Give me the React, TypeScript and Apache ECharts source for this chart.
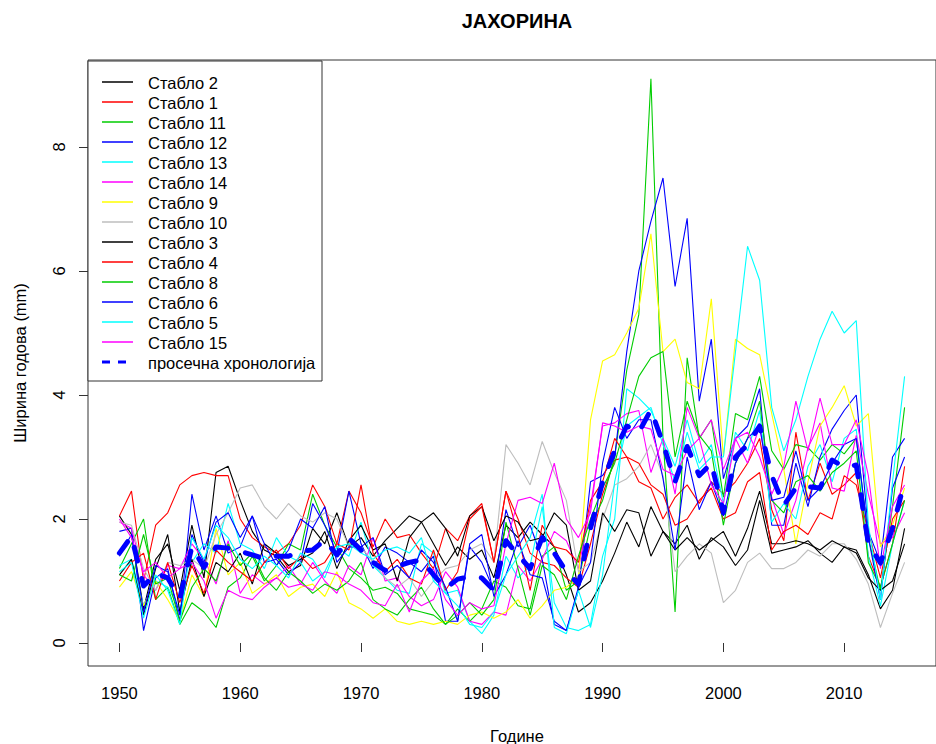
import React, { useEffect, useRef } from "react";
import * as echarts from "echarts";

// ---------- data ----------
const years = [
  1950, 1951, 1952, 1953, 1954, 1955, 1956, 1957, 1958, 1959,
  1960, 1961, 1962, 1963, 1964, 1965, 1966, 1967, 1968, 1969,
  1970, 1971, 1972, 1973, 1974, 1975, 1976, 1977, 1978, 1979,
  1980, 1981, 1982, 1983, 1984, 1985, 1986, 1987, 1988, 1989,
  1990, 1991, 1992, 1993, 1994, 1995, 1996, 1997, 1998, 1999,
  2000, 2001, 2002, 2003, 2004, 2005, 2006, 2007, 2008, 2009,
  2010, 2011, 2012, 2013, 2014, 2015,
];

const xTicks = [1950, 1960, 1970, 1980, 1990, 2000, 2010];
const yTicks = [0, 2, 4, 6, 8];

const stablo2 = [
  2.05, 1.75, 0.55, 1.35, 1.6, 0.85, 1.9, 1.05, 2.75, 2.85,
  2.3, 1.8, 1.5, 1.4, 1.15, 1.25, 1.85, 1.6, 2.1, 1.55,
  1.7, 1.4, 1.65, 1.85, 2.05, 1.95, 1.6, 1.25, 1.55, 1.35,
  1.5, 1.05, 1.9, 1.7, 1.95, 1.75, 1.55, 1.1, 0.5, 0.65,
  1.0, 1.45, 1.95, 1.55, 2.2, 1.8, 1.6, 1.9, 1.35, 1.7,
  1.55, 1.25, 1.5, 2.3, 1.45, 1.5, 1.55, 1.65, 1.45, 1.3,
  1.55, 1.5, 1.1, 0.55, 0.85, 1.85,
];
const stablo1 = [
  2.05, 2.45, 1.0, 1.9, 2.1, 2.55, 2.7, 2.75, 2.7, 2.7,
  2.0, 1.7, 1.55, 1.45, 1.6, 1.9, 2.55, 2.2, 1.6, 2.45,
  2.1, 1.55, 2.0, 1.7, 1.75, 1.45, 1.2, 1.85, 1.65, 2.05,
  2.25, 1.3, 2.45, 2.0, 1.45, 1.3, 1.25, 1.05, 0.9, 1.6,
  2.4, 2.95, 3.0, 2.6, 2.5, 2.0, 2.35, 2.55, 2.25, 2.6,
  2.4, 2.6, 2.9, 3.3, 2.15, 1.65, 3.4, 2.3, 2.9, 2.4,
  2.55, 2.75, 1.4, 0.9, 1.6, 2.85,
];
const stablo11 = [
  1.2, 1.6, 2.0, 0.7, 0.9, 0.3, 0.65, 0.5, 0.25, 0.9,
  1.05, 1.4, 1.0, 1.25, 1.6, 1.5, 2.4, 1.9, 1.55, 1.2,
  1.05, 0.85, 0.9, 0.8, 0.55, 0.5, 0.45, 0.3, 0.55, 0.35,
  0.55, 1.0, 0.9, 0.6, 0.55, 1.4, 1.55, 0.85, 1.0, 1.9,
  2.3, 3.0, 4.4, 5.3, 9.1, 3.3, 0.5, 4.6, 3.3, 3.6,
  2.35, 3.7, 3.6, 4.3, 3.1, 2.8, 3.2, 3.15, 2.95, 3.2,
  3.05, 3.3, 1.7, 0.85, 2.2, 3.8,
];
const stablo12 = [
  1.8, 1.85, 0.2, 1.05, 1.2, 0.35, 2.4, 1.5, 2.05, 1.45,
  1.55, 2.05, 1.3, 1.35, 1.1, 1.3, 2.25, 1.9, 1.45, 2.45,
  1.6, 1.2, 1.55, 1.45, 1.3, 1.15, 1.4, 0.35, 0.35, 1.55,
  1.3, 0.85, 2.15, 1.55, 1.9, 1.35, 0.3, 0.2, 0.85, 2.6,
  2.7, 3.0, 4.7, 6.0, 6.8, 7.5, 5.75, 6.85, 3.9, 4.9,
  2.65, 3.3, 3.5, 4.1, 1.9, 1.9, 2.9, 2.2, 3.0, 3.45,
  3.75, 4.0, 1.8, 1.3, 3.0, 3.3,
];
const stablo13 = [
  1.25, 1.35, 0.6, 1.0, 0.9, 0.55, 1.3, 1.6, 1.45, 2.25,
  1.6, 1.5, 1.2, 1.7, 1.4, 1.3, 1.0, 1.15, 1.55, 1.4,
  1.95, 1.25, 1.05, 0.85, 0.8, 1.6, 1.45, 0.8, 0.85, 0.35,
  0.15, 0.45, 1.4, 1.05, 1.25, 2.2, 0.65, 0.25, 0.2, 0.3,
  1.4, 2.0, 4.1, 3.95, 3.75, 3.3, 2.85, 3.6, 2.9, 3.2,
  2.25, 3.4, 3.1, 3.75, 1.95, 2.25, 2.0, 2.85, 3.2, 2.6,
  3.3, 3.45, 1.4, 0.6, 1.6, 2.3,
];
const stablo14 = [
  1.95, 1.85, 1.1, 0.85, 1.25, 1.2, 1.6, 1.35, 0.95, 1.65,
  0.8, 1.1, 0.95, 1.05, 1.25, 0.95, 1.3, 1.0, 0.8, 1.25,
  1.1, 1.7, 1.0, 1.05, 0.75, 0.6, 0.7, 1.15, 0.9, 0.35,
  0.3, 0.5, 0.45, 1.25, 1.0, 1.35, 1.8, 1.65, 1.2, 2.2,
  3.5, 3.55, 3.7, 3.75, 2.75, 3.3, 2.4, 3.8, 3.3, 3.6,
  2.8, 3.3, 2.9, 3.5, 2.35, 1.75, 2.3, 3.15, 3.55, 2.5,
  2.45, 3.35, 2.4, 1.6, 1.7, 2.1,
];
const stablo9 = [
  0.9, 1.15, 0.6, 1.0, 0.7, 0.35, 1.1, 0.75, 1.85, 1.1,
  1.3, 0.8, 0.95, 1.1, 0.75, 0.9, 0.95, 0.75, 1.15, 0.65,
  0.55, 0.4, 0.55, 0.35, 0.3, 0.35, 0.3, 0.35, 0.3, 0.45,
  0.5, 0.4, 0.5, 0.7, 0.4, 0.6, 0.85, 0.9, 1.05, 3.6,
  4.55, 4.65, 5.0, 5.4, 6.6, 4.7, 4.9, 4.2, 4.1, 5.55,
  3.0, 4.9, 4.75, 4.65, 3.7, 2.8, 1.6, 2.6, 3.5, 3.8,
  4.15, 3.5, 3.7, 1.55, 1.9, 2.5,
];
const stablo10 = [
  1.95, 1.9, 1.2, 0.85, 1.3, 1.25, 1.35, 1.2, 1.75, 2.1,
  2.5, 2.55, 2.2, 2.0, 2.25, 2.05, 1.95, 2.1, 2.0, 1.55,
  1.55, 1.3, 1.05, 0.9, 1.05, 0.75, 1.0, 1.2, 1.25, 1.5,
  1.6, 1.3, 3.2, 2.9, 2.55, 3.25, 2.75, 2.3, 1.15, 1.3,
  2.0, 2.55, 2.65, 2.85, 3.2, 2.7, 1.15, 1.4, 1.6, 1.45,
  0.65, 0.85, 1.3, 1.45, 1.2, 1.2, 1.3, 1.5, 1.4, 1.6,
  1.6, 1.35, 0.95, 0.25, 0.8, 1.3,
];
const stablo3 = [
  1.1, 1.35, 0.45, 1.2, 1.75, 0.5, 1.35, 0.75, 1.3, 1.15,
  1.45, 0.95, 1.6, 1.45, 1.25, 1.35, 1.45, 1.8, 1.2, 1.65,
  1.9, 1.5, 1.6, 1.0, 1.7, 1.95, 2.1, 1.85, 1.4, 2.05,
  2.2, 1.65, 2.05, 1.95, 1.65, 1.7, 2.1, 1.9, 0.85, 1.0,
  2.1, 1.8, 2.15, 2.1, 1.4, 1.8, 1.5, 1.7, 1.5, 1.65,
  1.8, 1.4, 1.85, 2.45, 1.6, 1.6, 1.65, 1.6, 1.5, 1.65,
  1.55, 1.45, 1.05, 0.85, 1.0, 1.6,
];
const stablo4 = [
  1.0, 1.3, 1.45, 0.7, 1.3, 0.65, 1.25, 0.8, 1.5, 1.3,
  1.15, 1.0, 1.3, 1.5, 1.2, 1.4, 1.2, 1.3, 1.6, 1.5,
  2.55, 1.45, 1.15, 1.35, 1.05, 0.95, 1.5, 0.85, 1.15, 2.0,
  2.2, 1.3, 2.45, 1.75, 0.85, 1.9, 1.55, 1.5, 1.3, 2.3,
  2.6, 3.3, 3.0, 2.9, 2.55, 2.4, 1.9, 2.0, 2.3, 2.5,
  2.0, 2.1, 2.6, 2.75, 1.5, 1.8, 1.9, 1.75, 2.1, 2.0,
  2.7, 2.55, 1.8, 1.05, 2.0, 2.3,
];
const stablo8 = [
  1.1, 1.0, 1.75, 0.95, 1.05, 0.35, 0.9, 1.2, 1.0, 1.6,
  1.25, 1.45, 1.05, 0.85, 1.15, 1.0, 0.8, 0.95, 0.85, 1.0,
  1.3, 0.7, 0.55, 0.45, 0.7, 0.9, 0.55, 0.3, 0.45, 0.65,
  0.45, 0.7, 1.95, 1.2, 0.45, 1.25, 1.1, 0.7, 1.4, 2.0,
  2.5, 2.9, 3.6, 4.3, 4.6, 4.7, 3.0, 3.9, 3.35, 3.1,
  1.9, 2.9, 3.3, 3.9, 2.3, 2.1, 2.6, 2.7, 2.45, 2.75,
  2.9, 3.1, 1.3, 0.9, 1.6, 2.3,
];
const stablo6 = [
  1.4, 1.75, 0.5, 1.25, 1.15, 0.45, 1.75, 1.3, 1.95, 2.1,
  1.7, 2.05, 1.6, 1.25, 1.5, 2.0, 1.85, 2.2, 1.3, 1.55,
  1.55, 1.7, 1.1, 1.25, 1.05, 1.5, 1.3, 0.9, 0.35, 1.6,
  1.75, 0.75, 1.1, 1.65, 1.1, 1.05, 0.35, 0.2, 0.9, 1.3,
  2.9, 3.8, 3.3, 3.6, 3.6, 2.65, 1.5, 3.0, 2.15, 2.6,
  2.05, 2.9, 3.3, 3.5, 2.3, 2.35, 3.1, 2.3, 2.5, 2.9,
  3.2, 3.3, 1.7, 0.7, 2.5, 3.0,
];
const stablo5 = [
  1.15, 1.3, 0.4, 1.1, 0.85, 0.3, 1.7, 1.35, 1.9, 1.7,
  1.35, 1.2, 1.4, 1.25, 1.05, 1.45, 1.35, 1.05, 1.55, 1.6,
  1.45, 1.35, 1.5, 1.55, 1.45, 1.7, 1.0, 0.8, 0.6, 0.3,
  0.25, 0.5, 1.1, 1.4, 1.7, 2.4, 0.25, 0.15, 0.85, 0.25,
  1.1, 2.6, 3.5, 3.65, 3.8, 3.2, 2.6, 3.4, 2.8, 3.0,
  3.0, 4.7, 6.4, 5.85, 3.8, 3.1, 3.6, 4.3, 4.9, 5.35,
  5.0, 5.2, 1.9, 0.7, 2.6, 4.3,
];
const stablo15 = [
  2.0, 1.7, 1.15, 1.3, 1.05, 1.2, 1.3, 1.0, 0.4, 0.85,
  0.75, 0.7, 0.9, 1.05, 0.9, 0.95, 0.85, 1.15, 1.1, 0.95,
  0.85, 0.65, 0.6, 0.95, 0.5, 1.0, 1.2, 0.7, 0.45, 0.65,
  0.55, 0.6, 1.6, 2.3, 2.35, 2.25, 2.9, 2.0, 1.7, 2.1,
  3.55, 3.5, 3.4, 3.5, 3.45, 2.8, 2.7, 3.1, 3.3, 2.55,
  2.25, 3.3, 3.4, 3.0, 2.4, 2.85, 3.9, 3.1, 3.95, 3.2,
  3.2, 3.6, 2.7, 1.2, 2.2, 2.55,
];
const meanChronology = [
  1.45, 1.72, 0.92, 1.12, 1.05, 0.72, 1.55, 1.22, 1.55, 1.53,
  1.48, 1.42, 1.36, 1.4, 1.4, 1.48, 1.5, 1.66, 1.42, 1.69,
  1.5, 1.3, 1.17, 1.24, 1.3, 1.34, 1.1, 0.88, 1.03, 1.07,
  1.05, 0.85, 1.65, 1.42, 1.2, 1.7, 1.45, 1.15, 0.95, 1.85,
  2.6, 3.1, 3.5, 3.4, 3.76, 3.22, 2.6, 3.17, 2.7, 2.9,
  2.1, 3.0, 3.2, 3.5, 2.7, 2.22, 2.5, 2.52, 2.5, 2.95,
  2.84, 2.87, 1.6, 1.29, 1.85, 2.6,
];

const treeNames = [
  "Стабло 2", "Стабло 1", "Стабло 11", "Стабло 12", "Стабло 13", "Стабло 14", "Стабло 9",
  "Стабло 10", "Стабло 3", "Стабло 4", "Стабло 8", "Стабло 6", "Стабло 5", "Стабло 15",
];
const treeValues = [
  stablo2, stablo1, stablo11, stablo12, stablo13, stablo14, stablo9,
  stablo10, stablo3, stablo4, stablo8, stablo6, stablo5, stablo15,
];
const meanName = "просечна хронологија";
const titleText = "ЈАХОРИНА";
const xTitle = "Године";
const yTitle = "Ширина годова (mm)";

// ---------- styles ----------
const palette = ["#000000", "#FF0000", "#00CD00", "#0000FF", "#00FFFF", "#FF00FF", "#FFFF00", "#BEBEBE"];
const FONT = "'Liberation Sans', Arial, Helvetica, sans-serif";
const BASE = 16.5;

export default function App() {
  const ref = useRef<HTMLDivElement>(null);

  useEffect(() => {
    if (!ref.current) return;
    const chart = echarts.init(ref.current, undefined, { renderer: "svg" });

    const lineSeries: any[] = treeValues.map((vals, i) => ({
      name: treeNames[i],
      type: "line",
      data: years.map((y, k) => [y, vals[k]]),
      symbol: "none",
      showSymbol: false,
      silent: true,
      lineStyle: { color: palette[i % 8], width: 1.1 },
      z: 2,
    }));
    lineSeries.push({
      name: meanName,
      type: "line",
      data: years.map((y, k) => [y, meanChronology[k]]),
      symbol: "none",
      showSymbol: false,
      silent: true,
      lineStyle: { color: "#0000FF", width: 5, type: [14, 18], cap: "round", join: "round" },
      z: 3,
    });

    const legendX = 88;
    const legendY = 61;
    const rowStart = 82;
    const rowGap = 20;
    const legendEls: any[] = [
      {
        type: "rect",
        shape: { x: legendX, y: legendY, width: 234, height: 320 },
        style: { fill: "#ffffff", stroke: "#333333", lineWidth: 1 },
        z: 100,
      },
    ];
    const allNames = [...treeNames, meanName];
    allNames.forEach((nm, i) => {
      const y = rowStart + i * rowGap;
      const isMean = i === treeNames.length;
      legendEls.push({
        type: "line",
        shape: { x1: 102, y1: y, x2: 133, y2: y },
        style: isMean
          ? { stroke: "#0000FF", lineWidth: 3, lineDash: [8, 8] }
          : { stroke: palette[i % 8], lineWidth: 1.5 },
        z: 101,
      });
      legendEls.push({
        type: "text",
        x: 148,
        y: y + 0.5,
        style: { text: nm, fill: "#000", font: `${BASE}px ${FONT}`, textAlign: "left", textVerticalAlign: "middle", verticalAlign: "middle" },
        z: 101,
      });
    });

    const option: any = {
      animation: false,
      backgroundColor: "#ffffff",
      grid: {
        left: 88,
        top: 60,
        width: 858,
        height: 606,
        show: true,
        borderColor: "#333333",
        borderWidth: 1,
        backgroundColor: "transparent",
        containLabel: false,
      },
      xAxis: {
        type: "value",
        min: 1947.4,
        max: 2017.6,
        splitLine: { show: false },
        axisLine: { show: false },
        axisTick: { show: true, customValues: xTicks, length: 9, lineStyle: { color: "#333333" } },
        axisLabel: {
          customValues: xTicks,
          margin: 18,
          fontSize: BASE,
          color: "#000",
          fontFamily: FONT,
          formatter: (v: number) => String(v),
        },
      },
      yAxis: {
        type: "value",
        min: -0.371,
        max: 9.403,
        splitLine: { show: false },
        axisLine: { show: false },
        axisTick: { show: true, customValues: yTicks, length: 9, lineStyle: { color: "#333333" } },
        axisLabel: {
          customValues: yTicks,
          rotate: 90,
          margin: 21,
          fontSize: BASE,
          color: "#000",
          fontFamily: FONT,
          formatter: (v: number) => String(v),
        },
      },
      series: lineSeries,
      graphic: [
        {
          type: "text",
          x: 517,
          y: 21,
          style: { text: titleText, fill: "#000", font: `bold 20px ${FONT}`, textAlign: "center", textVerticalAlign: "middle", verticalAlign: "middle" },
        },
        {
          type: "text",
          x: 517,
          y: 736,
          style: { text: xTitle, fill: "#000", font: `${BASE}px ${FONT}`, textAlign: "center", textVerticalAlign: "middle", verticalAlign: "middle" },
        },
        {
          type: "text",
          x: 20,
          y: 363,
          rotation: Math.PI / 2,
          style: { text: yTitle, fill: "#000", font: `${BASE}px ${FONT}`, textAlign: "center", textVerticalAlign: "middle", verticalAlign: "middle" },
        },
        ...legendEls,
      ],
    };

    chart.setOption(option);
    return () => chart.dispose();
  }, []);

  return (
    <div
      ref={ref}
      style={{ position: "fixed", left: 0, top: 0, width: 936, height: 744, background: "#fff" }}
    />
  );
}
